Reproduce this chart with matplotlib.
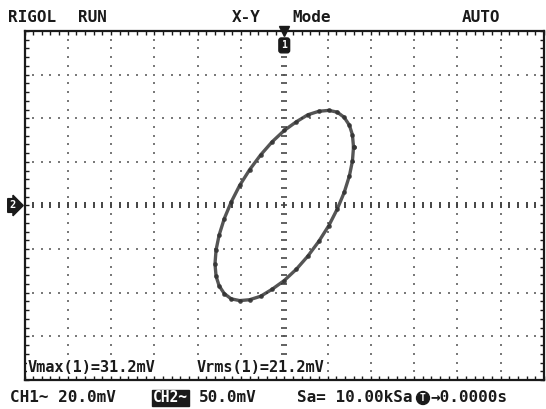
import matplotlib
matplotlib.use("Agg")
import matplotlib.pyplot as plt
import numpy as np

# X-Y trace, CH1 on x (mV), CH2 on y (mV)
trace_x = [32, 31.5, 30.1, 27.7, 24.5, 20.6, 16, 10.9, 5.6, 0, -5.6, -10.9,
           -16, -20.6, -24.5, -27.7, -30.1, -31.5,
           -32, -31.5, -30.1, -27.7, -24.5, -20.6, -16, -10.9, -5.6, 0, 5.6, 10.9,
           16, 20.6, 24.5, 27.7, 30.1, 31.5]
trace_y = [67, 81, 92, 101, 107, 109, 108, 104, 96, 86, 73, 58,
           41, 23, 4, -15, -34, -51,
           -67, -81, -92, -101, -107, -109, -108, -104, -96, -86, -73, -58,
           -41, -23, -4, 15, 34, 51]

ch1_scale = 20.0   # mV/div
ch2_scale = 50.0   # mV/div
xdiv, ydiv = 12, 8

top_labels = ["RIGOL", "RUN", "X-Y", "Mode", "AUTO"]
top_pos = [8, 78, 232, 292, 462]
meas_labels = ["Vmax(1)=31.2mV", "Vrms(1)=21.2mV"]

W, H = 546, 409
fig = plt.figure(figsize=(W / 100, H / 100), dpi=100)
fig.patch.set_facecolor("white")
L, R, T, B = 24.5, 544, 31, 380
ax = fig.add_axes([L / W, 1 - B / H, (R - L) / W, (B - T) / H])

xmax = ch1_scale * xdiv / 2
ymax = ch2_scale * ydiv / 2
ax.set_xlim(-xmax, xmax)
ax.set_ylim(-ymax, ymax)

ink = "#1a1a1a"
grid_c = "#7a7a7a"

# ---- dotted graticule
xs_sub = np.arange(-xmax, xmax + 0.01, ch1_scale / 5)
ys_sub = np.arange(-ymax, ymax + 0.01, ch2_scale / 5)
for k in range(-xdiv // 2 + 1, xdiv // 2):
    if k == 0:
        continue
    gx = k * ch1_scale
    ax.scatter(np.full(len(ys_sub), gx), ys_sub, s=3, marker="s", color=grid_c, lw=0, zorder=1)
for k in range(-ydiv // 2 + 1, ydiv // 2):
    if k == 0:
        continue
    gy = k * ch2_scale
    ax.scatter(xs_sub, np.full(len(xs_sub), gy), s=3, marker="s", color=grid_c, lw=0, zorder=1)

# centre axes with small ticks
ax.scatter(np.zeros(len(ys_sub)), ys_sub, s=14, marker="_", color="#555555", lw=1.3, zorder=1)
ax.scatter(xs_sub, np.zeros(len(xs_sub)), s=14, marker="|", color="#444444", lw=1.4, zorder=1)

# ---- frame ruler
ax.set_xticks(np.arange(-xmax, xmax + 0.01, ch1_scale))
ax.set_yticks(np.arange(-ymax, ymax + 0.01, ch2_scale))
ax.set_xticks(xs_sub, minor=True)
ax.set_yticks(ys_sub, minor=True)
ax.tick_params(which="both", direction="in", length=3, width=1, color=ink,
               top=True, right=True, labelbottom=False, labelleft=False)
for sp in ax.spines.values():
    sp.set_linewidth(1.6)
    sp.set_color(ink)

# ---- trace
px = trace_x + trace_x[:1]
py = trace_y + trace_y[:1]
ax.plot(px, py, color="#2b2b2b", lw=2.4, alpha=0.8, zorder=3)
ax.plot(px, py, "o", color="#333333", ms=2.4, alpha=0.8, zorder=3)

# ---- channel markers
ax.plot([0], [ymax], marker="v", color=ink, ms=7, clip_on=False, zorder=5)
ax.text(0, ymax - ch2_scale * 0.33, "1", ha="center", va="center", color="white",
        fontsize=7, fontweight="bold", family="DejaVu Sans Mono", zorder=6,
        bbox=dict(boxstyle="round,pad=0.25", fc=ink, ec=ink))
ax.text(-xmax - ch1_scale * 0.2, 0, "2", ha="right", va="center", color="white",
        fontsize=7.5, fontweight="bold", family="DejaVu Sans Mono", zorder=6, clip_on=False,
        bbox=dict(boxstyle="rarrow,pad=0.18", fc=ink, ec=ink))

# ---- measurement readouts
mono = "DejaVu Sans Mono"
for lab, xp in zip(meas_labels, [28, 197]):
    fig.text(xp / W, 1 - 368 / H, lab, ha="left", va="center", fontsize=11,
             family=mono, fontweight="bold", color=ink,
             bbox=dict(fc="white", ec="none", pad=0.5))

# ---- status lines
for lab, xp in zip(top_labels, top_pos):
    fig.text(xp / W, 1 - 17.5 / H, lab, ha="left", va="center", fontsize=11.5,
             family=mono, fontweight="bold", color=ink)

yb = 1 - 398 / H
fig.text(10 / W, yb, "CH1~ %.1fmV" % ch1_scale, ha="left", va="center",
         fontsize=11.5, family=mono, fontweight="bold", color=ink)
fig.text(153 / W, yb, "CH2~", ha="left", va="center", fontsize=10.5, family=mono,
         fontweight="bold", color="white", bbox=dict(fc=ink, ec=ink, pad=0.6))
fig.text(199 / W, yb, "%.1fmV" % ch2_scale, ha="left", va="center",
         fontsize=11.5, family=mono, fontweight="bold", color=ink)
fig.text(297 / W, yb, "Sa= 10.00kSa", ha="left", va="center",
         fontsize=11.5, family=mono, fontweight="bold", color=ink)
fig.text(423 / W, yb, "T", ha="center", va="center", fontsize=7, family=mono,
         color="white", fontweight="bold", bbox=dict(boxstyle="circle,pad=0.15", fc=ink, ec=ink))
fig.text(430 / W, yb, "→0.0000s", ha="left", va="center",
         fontsize=11.5, family=mono, fontweight="bold", color=ink)

fig.savefig("out.png", dpi=100, facecolor="white")
